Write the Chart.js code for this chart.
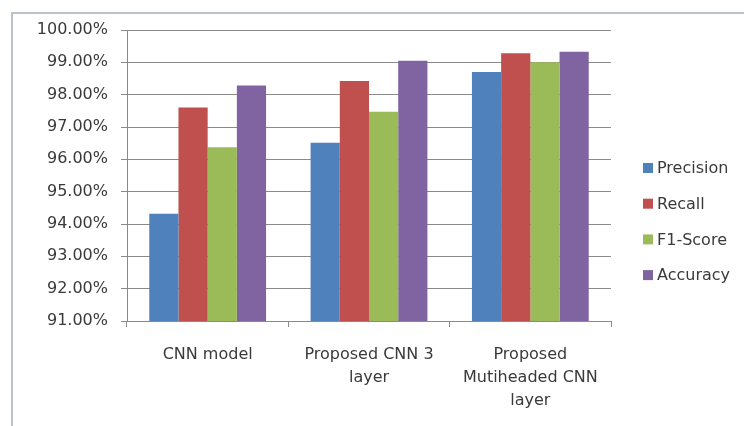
<!DOCTYPE html>
<html>
<head>
<meta charset="utf-8">
<script src="https://cdn.jsdelivr.net/npm/chart.js@4/dist/chart.umd.min.js"></script>
<style>
  html, body { margin: 0; padding: 0; background: #ffffff; }
  #wrap { width: 744px; height: 426px; position: relative; }
</style>
</head>
<body>
<div id="wrap"><canvas id="c"></canvas></div>
<script>
// Model names shown under each group of bars
const categories = [
  ["CNN model"],
  ["Proposed CNN 3", "layer"],
  ["Proposed", "Mutiheaded CNN", "layer"]
];

// Metric values (%) for each model
const precision = [94.32, 96.51, 98.70];
const recall    = [97.60, 98.42, 99.28];
const f1Score   = [96.37, 97.47, 99.00];
const accuracy  = [98.28, 99.05, 99.33];

const seriesNames = ["Precision", "Recall", "F1-Score", "Accuracy"];
const seriesColors = ["#4F81BD", "#C0504D", "#9BBB59", "#8064A2"];

// Value axis range
const yMin = 91;
const yMax = 100;
const yStep = 1;

const textColor = "#3a3a3a";
const gridColor = "#8a8a8a";

Chart.defaults.font.family = "'DejaVu Sans', sans-serif";
Chart.defaults.font.size = 16;
Chart.defaults.color = textColor;

// Light outer frame around the chart object
const framePlugin = {
  id: "frame",
  beforeDraw(chart) {
    const ctx = chart.ctx;
    ctx.save();
    ctx.strokeStyle = "#b9c3cc";
    ctx.lineWidth = 2;
    ctx.beginPath();
    ctx.moveTo(12, chart.height + 5);
    ctx.lineTo(12, 13);
    ctx.lineTo(chart.width + 5, 13);
    ctx.stroke();
    ctx.restore();
  }
};

// Legend listed to the right of the plot area
const sideLegend = {
  id: "sideLegend",
  afterDraw(chart, args, opts) {
    const ctx = chart.ctx;
    const x = chart.chartArea.right + opts.offsetX;
    ctx.save();
    ctx.font = "16px 'DejaVu Sans', sans-serif";
    ctx.textBaseline = "middle";
    ctx.textAlign = "left";
    chart.data.datasets.forEach((ds, i) => {
      const cy = opts.firstY + i * opts.spacing;
      ctx.fillStyle = ds.backgroundColor;
      ctx.fillRect(x, cy - 5, 10, 10);
      ctx.fillStyle = textColor;
      ctx.fillText(ds.label, x + 14, cy + 1);
    });
    ctx.restore();
  }
};

const seriesValues = [precision, recall, f1Score, accuracy];

new Chart(document.getElementById("c"), {
  type: "bar",
  data: {
    labels: categories,
    datasets: seriesNames.map((name, i) => ({
      label: name,
      data: seriesValues[i],
      backgroundColor: seriesColors[i],
      borderWidth: 0,
      categoryPercentage: 0.724,
      barPercentage: 1.0
    }))
  },
  options: {
    responsive: true,
    maintainAspectRatio: false,
    animation: false,
    layout: { padding: { top: 30, right: 133, bottom: 0, left: 0 } },
    plugins: {
      legend: { display: false },
      tooltip: { enabled: false },
      sideLegend: { offsetX: 32, firstY: 168, spacing: 35.7 }
    },
    scales: {
      x: {
        grid: {
          display: true,
          offset: true,
          drawOnChartArea: false,
          drawTicks: true,
          tickLength: 6,
          color: gridColor
        },
        border: { display: true, color: gridColor, width: 1 },
        ticks: {
          padding: 17,
          color: textColor,
          maxRotation: 0,
          autoSkip: false,
          font: { size: 16, lineHeight: 1.41 }
        },
        afterFit(scale) { scale.height = 105; }
      },
      y: {
        min: yMin,
        max: yMax,
        grid: {
          color: gridColor,
          drawTicks: true,
          tickLength: 6
        },
        border: { display: true, color: gridColor, width: 1 },
        ticks: {
          stepSize: yStep,
          padding: 13,
          color: textColor,
          callback: (v) => v.toFixed(2) + "%"
        },
        afterFit(scale) { scale.width = 127; }
      }
    }
  },
  plugins: [framePlugin, sideLegend]
});
</script>
</body>
</html>
